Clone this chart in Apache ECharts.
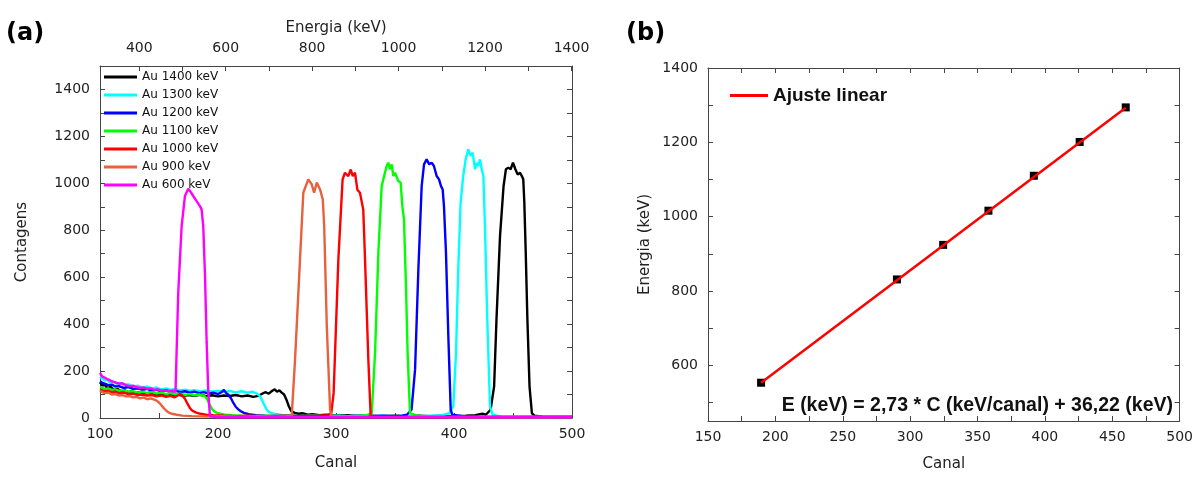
<!DOCTYPE html>
<html>
<head>
<meta charset="utf-8">
<script src="https://cdn.jsdelivr.net/npm/echarts@6/dist/echarts.min.js"></script>
<style>
  html, body { margin: 0; padding: 0; background: #fff; }
  #chart { width: 1196px; height: 477px; }
</style>
</head>
<body>
<div id="chart"></div>
<script>
// spectra: [canal, contagens]
const au1400 = [[100,152],[102,138],[104,142],[106,128],[109,132],[112,120],[115,124],[118,114],[121,118],[124,110],[127,114],[130,106],[134,110],[138,104],[142,108],[146,100],[150,104],[154,98],[158,102],[162,96],[166,100],[170,94],[175,98],[180,95],[185,99],[190,93],[195,97],[200,92],[205,96],[210,94],[215,98],[220,92],[225,96],[230,90],[234,94],[237,102],[240,110],[243,104],[246,116],[248,122],[250,112],[252,118],[254,108],[256,100],[258,78],[260,50],[262,30],[265,22],[268,18],[272,20],[276,14],[280,16],[286,12],[292,14],[300,10],[310,12],[320,8],[330,10],[340,8],[350,10],[360,8],[370,10],[380,8],[390,10],[400,8],[410,10],[418,12],[424,18],[427,14],[428,20],[431,35],[434,135],[436,420],[439,775],[442,988],[444,1060],[446,1067],[448,1060],[450,1088],[452,1060],[454,1038],[456,1045],[457.5,1031],[458.7,1017],[459.6,918],[460.8,704],[462.2,420],[464,135],[466,21],[468,10],[475,6],[485,4],[500,4]];

const au1300 = [[100,176],[102,168],[104,160],[106,164],[108,152],[111,156],[114,146],[117,150],[120,140],[124,144],[128,134],[132,138],[136,130],[140,134],[144,126],[148,130],[152,122],[156,126],[160,120],[164,124],[168,117],[172,121],[176,115],[180,119],[185,113],[190,118],[195,112],[200,116],[205,110],[210,115],[215,109],[220,114],[225,108],[229,112],[233,104],[235,96],[237,80],[239,58],[241,38],[243,26],[246,20],[250,16],[255,12],[262,10],[270,8],[280,10],[290,8],[300,10],[310,8],[320,10],[330,8],[340,10],[350,8],[360,10],[370,8],[380,10],[390,12],[396,21],[399.4,50],[401.7,277],[403.6,633],[405.6,918],[407.8,1031],[409.9,1102],[412.1,1145],[414.1,1117],[415.8,1131],[417.8,1060],[419.2,1088],[420.6,1074],[422,1102],[423.5,1060],[424.9,1031],[426.3,804],[428.2,420],[430.5,50],[432.7,14],[440,6],[460,4],[500,4]];

const au1200 = [[100,156],[102,150],[104,146],[107,140],[110,142],[113,134],[116,136],[120,128],[124,132],[128,124],[132,126],[136,120],[140,124],[144,116],[148,120],[152,114],[156,118],[160,112],[164,116],[168,110],[172,114],[176,108],[180,112],[184,106],[188,110],[192,104],[196,108],[200,102],[203,110],[205,120],[207,106],[209,98],[211,84],[213,64],[215,48],[217,38],[219,30],[222,22],[226,16],[232,12],[240,10],[250,8],[260,10],[270,8],[280,10],[290,8],[300,10],[310,8],[320,10],[330,8],[340,10],[350,8],[356,10],[360,14],[364,35],[367,206],[369.8,633],[372.6,988],[374.6,1081],[376.8,1102],[379,1081],[381.1,1088],[383,1074],[385.3,1031],[387.3,1017],[389,988],[390.4,974],[391.5,903],[393.2,704],[395.2,348],[397.2,35],[398.6,14],[410,6],[440,4],[500,4]];

const au1100 = [[100,132],[102,128],[104,124],[107,126],[110,120],[113,122],[116,116],[120,118],[124,112],[128,114],[132,108],[136,112],[140,106],[144,110],[148,104],[152,108],[156,102],[160,106],[164,100],[168,104],[172,98],[176,102],[180,96],[184,100],[187,96],[189,92],[191,78],[193,56],[195,38],[197,28],[199,22],[202,18],[206,14],[212,12],[220,10],[230,8],[240,10],[250,8],[260,10],[270,8],[280,10],[290,8],[300,10],[310,8],[320,10],[326,12],[330.3,21],[333.1,277],[335.9,704],[338.7,988],[340.1,1017],[342.9,1074],[344.3,1088],[345.8,1060],[347.2,1081],[348.6,1031],[350,1045],[352.8,1010],[354.8,1003],[356.2,903],[357.6,847],[359.3,562],[360.7,277],[362.7,21],[370,8],[400,4],[500,4]];

const au1000 = [[100,122],[102,118],[104,114],[107,116],[110,110],[113,112],[116,106],[120,108],[124,102],[128,104],[132,98],[136,100],[140,96],[144,98],[148,92],[152,96],[156,90],[160,94],[163,88],[166,96],[168,102],[170,94],[172,82],[174,62],[176,44],[178,32],[181,24],[185,18],[190,14],[196,12],[205,10],[215,8],[225,10],[240,8],[255,10],[270,8],[285,10],[293,12],[296,20],[298,107],[302,676],[305.6,1017],[307.6,1045],[310.4,1031],[312.5,1059],[314.2,1031],[316.1,1045],[318.1,973],[320.3,960],[323.1,888],[324.6,676],[327.4,249],[329.4,7],[340,5],[400,4],[500,4]];

const au900 = [[100,116],[102,110],[104,106],[107,108],[110,100],[113,102],[116,96],[119,98],[122,92],[125,94],[128,88],[131,90],[134,84],[137,88],[140,80],[143,84],[146,78],[148,74],[150,66],[152,54],[154,42],[156,32],[158,24],[161,18],[165,14],[170,10],[178,8],[190,6],[205,8],[220,6],[235,8],[250,6],[258,8],[262.5,10],[265.3,249],[269.5,676],[272.3,960],[276.5,1017],[279.4,996],[281.4,960],[283.7,1003],[286.5,974],[288.8,931],[290,818],[292.2,391],[295,35],[296.4,7],[310,4],[400,4],[500,4]];

const au600 = [[100,192],[101,184],[102,176],[104,172],[106,166],[108,162],[110,156],[113,152],[116,146],[119,148],[122,140],[125,136],[128,138],[131,132],[134,128],[137,130],[140,124],[143,126],[146,120],[149,122],[152,116],[155,118],[158,114],[161,116],[164,112],[165,114],[166.3,533],[169.2,818],[172,946],[174.8,977],[177,962],[179,946],[181.9,924],[184.7,903],[186.1,889],[187.5,818],[189,604],[190.4,320],[191.8,107],[193.2,7],[200,3],[300,3],[400,3],[500,3]];

const spectraNames = ['Au 1400 keV', 'Au 1300 keV', 'Au 1200 keV', 'Au 1100 keV', 'Au 1000 keV', 'Au 900 keV', 'Au 600 keV'];
const spectraColors = ['#000000', '#00FFFF', '#0000FF', '#00FF00', '#FF0000', '#E8603C', '#FF00FF'];
const spectra = [au1400, au1300, au1200, au1100, au1000, au900, au600];

// calibracao (b)
const calibCanal = [189.4, 290.2, 324.5, 358.1, 391.8, 425.8, 460.0];
const calibEnergy = [553, 831, 924, 1016, 1110, 1201, 1294];
const fitLine = [[189.4, 553], [460, 1293]];

const energyTicks = [400, 500, 600, 700, 800, 900, 1000, 1100, 1200, 1300, 1400];
const energyLabels = [400, 600, 800, 1000, 1200, 1400];
const calibYTicks = [500, 600, 700, 800, 900, 1000, 1100, 1200, 1300, 1400];
const calibYLabels = [600, 800, 1000, 1200, 1400];

const FONT = 'DejaVu Sans';
const axisColor = '#444';
const labelStyle = { fontFamily: FONT, fontSize: 14, color: '#222' };
const nameStyle = { fontFamily: FONT, fontSize: 15, color: '#222' };

function frameAxis(extra) {
  return Object.assign({
    type: 'value',
    axisLine: { show: true, onZero: false, lineStyle: { color: axisColor, width: 1 } },
    axisTick: { show: true, inside: true, length: 5, lineStyle: { color: axisColor } },
    axisLabel: Object.assign({ show: true }, labelStyle),
    splitLine: { show: false },
    nameTextStyle: nameStyle,
  }, extra);
}

const plain = v => String(v);

const chart = echarts.init(document.getElementById('chart'));

const series = spectra.map((d, i) => ({
  name: spectraNames[i],
  type: 'line',
  xAxisIndex: 0,
  yAxisIndex: 0,
  data: d,
  symbol: 'none',
  lineStyle: { width: 2.4, color: spectraColors[i] },
  itemStyle: { color: spectraColors[i] },
  silent: true,
}));

series.push({
  name: 'pontos',
  type: 'scatter',
  xAxisIndex: 2,
  yAxisIndex: 2,
  data: calibCanal.map((c, i) => [c, calibEnergy[i]]),
  symbol: 'rect',
  symbolSize: 8,
  itemStyle: { color: '#000', opacity: 1 },
  silent: true,
});
series.push({
  name: 'Ajuste linear',
  type: 'line',
  xAxisIndex: 2,
  yAxisIndex: 2,
  data: fitLine,
  symbol: 'none',
  lineStyle: { width: 2.5, color: '#FF0000' },
  itemStyle: { color: '#FF0000' },
  silent: true,
  z: 3,
});

const option = {
  animation: false,
  backgroundColor: '#fff',
  title: [
    { text: '(a)', left: 6, top: 22, padding: 0,
      textStyle: { fontFamily: FONT, fontSize: 24, fontWeight: 'bold', color: '#000' } },
    { text: '(b)', left: 626, top: 22, padding: 0,
      textStyle: { fontFamily: FONT, fontSize: 24, fontWeight: 'bold', color: '#000' } },
    { text: 'E (keV) = 2,73 * C (keV/canal) + 36,22 (keV)', right: 23, top: 396, padding: 0,
      textStyle: { fontFamily: 'Liberation Sans', fontSize: 19.5, fontWeight: 'bold', color: '#111' } },
  ],
  legend: [
    {
      data: spectraNames,
      orient: 'vertical',
      left: 104,
      top: 71,
      padding: 0,
      icon: 'rect',
      itemWidth: 33,
      itemHeight: 3,
      itemGap: 6,
      textStyle: { fontFamily: FONT, fontSize: 12, color: '#111' },
    },
    {
      data: ['Ajuste linear'],
      left: 730,
      top: 86,
      padding: 0,
      icon: 'rect',
      itemWidth: 38,
      itemHeight: 3,
      textStyle: { fontFamily: 'Liberation Sans', fontSize: 19, fontWeight: 'bold', color: '#111' },
    },
  ],
  grid: [
    { left: 100, top: 66, width: 472, height: 352 },
    { left: 708, top: 68, width: 474, height: 353 },
  ],
  xAxis: [
    frameAxis({
      gridIndex: 0, position: 'bottom', min: 100, max: 500, interval: 50,
      name: 'Canal', nameLocation: 'middle', nameGap: 38,
      axisLabel: Object.assign({ margin: 9, formatter: v => (v % 100 === 0 ? String(v) : '') }, labelStyle),
    }),
    frameAxis({
      gridIndex: 0, position: 'top', min: 309.22, max: 1401.22,
      name: 'Energia (keV)', nameLocation: 'middle', nameGap: 30,
      axisTick: { show: true, inside: true, length: 5, customValues: energyTicks, lineStyle: { color: axisColor } },
      axisLabel: Object.assign({ margin: 11, customValues: energyLabels, formatter: plain }, labelStyle),
    }),
    frameAxis({
      gridIndex: 1, position: 'bottom', min: 150, max: 500, interval: 25,
      name: 'Canal', nameLocation: 'middle', nameGap: 36,
      axisLabel: Object.assign({ margin: 9, formatter: v => (v % 50 === 0 ? String(v) : '') }, labelStyle),
    }),
    frameAxis({
      gridIndex: 1, position: 'top', min: 150, max: 500, interval: 25,
      axisLabel: { show: false },
    }),
  ],
  yAxis: [
    frameAxis({
      gridIndex: 0, position: 'left', min: 0, max: 1500, interval: 100,
      name: 'Contagens', nameLocation: 'middle', nameGap: 70,
      axisLabel: Object.assign({ margin: 10, formatter: v => (v % 200 === 0 ? String(v) : '') }, labelStyle),
    }),
    frameAxis({
      gridIndex: 0, position: 'right', min: 0, max: 1500, interval: 100,
      axisLabel: { show: false },
    }),
    frameAxis({
      gridIndex: 1, position: 'left', min: 450, max: 1400,
      name: 'Energia (keV)', nameLocation: 'middle', nameGap: 55,
      axisTick: { show: true, inside: true, length: 5, customValues: calibYTicks, lineStyle: { color: axisColor } },
      axisLabel: Object.assign({ margin: 10, customValues: calibYLabels, formatter: plain }, labelStyle),
    }),
    frameAxis({
      gridIndex: 1, position: 'right', min: 450, max: 1400,
      axisTick: { show: true, inside: true, length: 5, customValues: calibYTicks, lineStyle: { color: axisColor } },
      axisLabel: { show: false },
    }),
  ],
  series: series,
};

chart.setOption(option);
</script>
</body>
</html>
